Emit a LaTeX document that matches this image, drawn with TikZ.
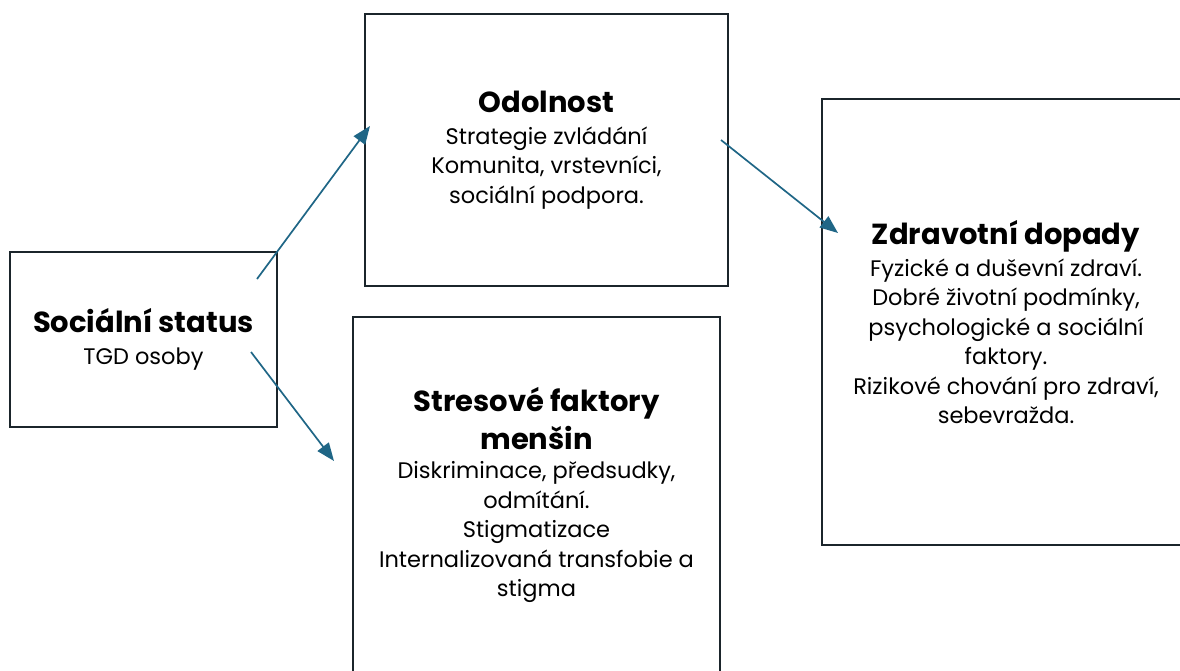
\documentclass[tikz,border=0pt]{standalone}
\usepackage{fontspec}
\setmainfont{Poppins}
\usetikzlibrary{arrows.meta}
\definecolor{boxline}{HTML}{1B252B}
\definecolor{arrowc}{HTML}{1F6686}
\tikzset{
  box/.style={draw=boxline, line width=2.5pt, fill=white, inner sep=0pt, align=center,
              font=\fontsize{22.5}{29.5}\selectfont},
  conn/.style={draw=arrowc, line width=1.7pt, -{Triangle[length=18pt,width=14pt]}},
}
\newcommand{\ttl}[1]{{\fontsize{29}{39}\selectfont\bfseries #1}}
\begin{document}
\begin{tikzpicture}[x=1pt,y=-1pt]
\useasboundingbox (0,0) rectangle (1180,670);
\clip (0,0) rectangle (1180,670);
\node[box, minimum width=267pt, minimum height=175pt] (soc) at (143.5,339.5)
  {\ttl{Sociální status}\\[2.5pt]TGD osoby};
\node[box, minimum width=363pt, minimum height=272pt] (odo) at (546.5,150)
  {\ttl{Odolnost}\\[2.5pt]Strategie zvládání\\Komunita, vrstevníci,\\sociální podpora.};
\node[box, minimum width=367pt, minimum height=356pt] (str) at (536.5,495)
  {\ttl{Stresové faktory}\\[6pt]\ttl{menšin}\\Diskriminace, předsudky,\\odmítání.\\Stigmatizace\\Internalizovaná transfobie a\\stigma};
\node[box, minimum width=368pt, minimum height=446pt] (zdr) at (1006,322)
  {\ttl{Zdravotní dopady}\\[2.5pt]Fyzické a duševní zdraví.\\Dobré životní podmínky,\\psychologické a sociální\\faktory.\\Rizikové chování pro zdraví,\\sebevražda.};
\coordinate (a1s) at (257,279);
\coordinate (a1e) at (370,126);
\coordinate (a2s) at (251,352);
\coordinate (a2e) at (334,461);
\coordinate (a3s) at (721,140);
\coordinate (a3e) at (838,233);
\draw[conn] (a1s) -- (a1e);
\draw[conn] (a2s) -- (a2e);
\draw[conn] (a3s) -- (a3e);
\end{tikzpicture}
\end{document}
